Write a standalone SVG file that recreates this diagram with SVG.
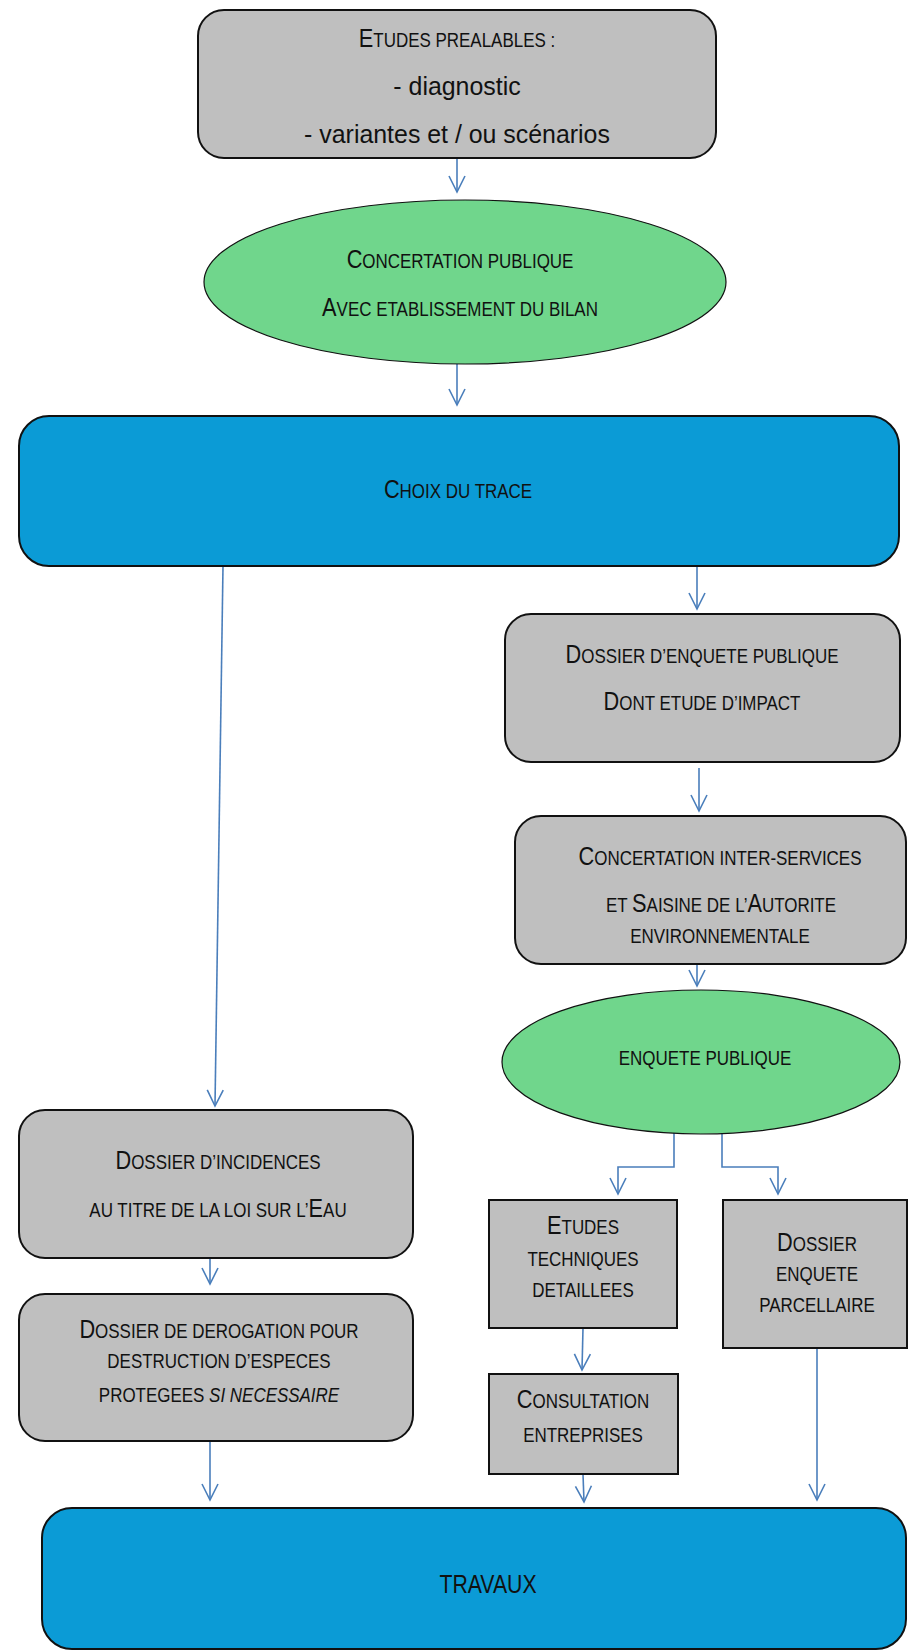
<svg xmlns="http://www.w3.org/2000/svg" width="908" height="1651" viewBox="0 0 908 1651">
<style>
.gray{fill:#bfbfbf;stroke:#111;stroke-width:2}
.blue{fill:#0b9bd6;stroke:#111;stroke-width:2}
.green{fill:#70d68c;stroke:#111;stroke-width:1.2}
.t{font-family:"Liberation Sans",Arial,sans-serif;font-size:19.5px;fill:#111;text-anchor:middle}
.b{font-size:25px}
.lc{font-size:26.5px}
.it{font-style:italic}
.c{fill:none;stroke:#4a7ebb;stroke-width:1.6}
</style>
<defs>
<marker id="ah" markerUnits="userSpaceOnUse" viewBox="-18 -10 20 20" markerWidth="20" markerHeight="20" refX="0" refY="0" orient="auto" overflow="visible">
<path d="M-16,-8 L0,0 L-16,8" fill="none" stroke="#4a7ebb" stroke-width="1.6"/>
</marker>
</defs>
<g id="connectors">
<path class="c" d="M457,158 L457,192" marker-end="url(#ah)"/>
<path class="c" d="M457,364 L457,405" marker-end="url(#ah)"/>
<path class="c" d="M223,566 L215,1106" marker-end="url(#ah)"/>
<path class="c" d="M697,566 L697,609" marker-end="url(#ah)"/>
<path class="c" d="M699,768 L699,811" marker-end="url(#ah)"/>
<path class="c" d="M697,964 L697,986" marker-end="url(#ah)"/>
<path class="c" d="M674,1133 L674,1167 L618,1167 L618,1194" marker-end="url(#ah)"/>
<path class="c" d="M722,1133 L722,1167 L778,1167 L778,1194" marker-end="url(#ah)"/>
<path class="c" d="M210,1258 L210,1284" marker-end="url(#ah)"/>
<path class="c" d="M583,1328 L582,1370" marker-end="url(#ah)"/>
<path class="c" d="M210,1441 L210,1500" marker-end="url(#ah)"/>
<path class="c" d="M583,1474 L584,1502" marker-end="url(#ah)"/>
<path class="c" d="M817,1348 L817,1500" stroke-width="2.4" marker-end="url(#ah)"/>
</g>
<g id="etudes-prealables">
<rect class="gray" x="198" y="10" width="518" height="148" rx="26"/>
<text class="t" transform="translate(457,47) scale(0.87,1)"><tspan class="b">E</tspan>TUDES PREALABLES :</text>
<text class="t lc" transform="translate(457,95) scale(0.94,1)">- diagnostic</text>
<text class="t lc" transform="translate(457,143) scale(0.94,1)">- variantes et / ou scénarios</text>
</g>
<g id="concertation-publique">
<ellipse class="green" cx="465" cy="282" rx="261" ry="82"/>
<text class="t" transform="translate(460,268) scale(0.87,1)"><tspan class="b">C</tspan>ONCERTATION PUBLIQUE</text>
<text class="t" transform="translate(460,316) scale(0.87,1)"><tspan class="b">A</tspan>VEC ETABLISSEMENT DU BILAN</text>
</g>
<g id="choix-trace">
<rect class="blue" x="19" y="416" width="880" height="150" rx="30"/>
<text class="t" transform="translate(458,498) scale(0.87,1)"><tspan class="b">C</tspan>HOIX DU TRACE</text>
</g>
<g id="dossier-enquete">
<rect class="gray" x="505" y="614" width="395" height="148" rx="26"/>
<text class="t" transform="translate(702,663) scale(0.87,1)"><tspan class="b">D</tspan>OSSIER D’ENQUETE PUBLIQUE</text>
<text class="t" transform="translate(702,710) scale(0.87,1)"><tspan class="b">D</tspan>ONT ETUDE D’IMPACT</text>
</g>
<g id="concertation-inter">
<rect class="gray" x="515" y="816" width="391" height="148" rx="26"/>
<text class="t" transform="translate(720,865) scale(0.87,1)"><tspan class="b">C</tspan>ONCERTATION INTER-SERVICES</text>
<text class="t" transform="translate(721,912) scale(0.87,1)">ET <tspan class="b">S</tspan>AISINE DE L’<tspan class="b">A</tspan>UTORITE</text>
<text class="t" transform="translate(720,943) scale(0.87,1)">ENVIRONNEMENTALE</text>
</g>
<g id="enquete-publique">
<ellipse class="green" cx="701" cy="1062" rx="199" ry="72"/>
<text class="t" transform="translate(705,1065) scale(0.87,1)">ENQUETE PUBLIQUE</text>
</g>
<g id="dossier-incidences">
<rect class="gray" x="19" y="1110" width="394" height="148" rx="26"/>
<text class="t" transform="translate(218,1169) scale(0.87,1)"><tspan class="b">D</tspan>OSSIER D’INCIDENCES</text>
<text class="t" transform="translate(218,1217) scale(0.87,1)">AU TITRE DE LA LOI SUR L’<tspan class="b">E</tspan>AU</text>
</g>
<g id="dossier-derogation">
<rect class="gray" x="19" y="1294" width="394" height="147" rx="26"/>
<text class="t" transform="translate(219,1338) scale(0.87,1)"><tspan class="b">D</tspan>OSSIER DE DEROGATION POUR</text>
<text class="t" transform="translate(219,1368) scale(0.87,1)">DESTRUCTION D’ESPECES</text>
<text class="t" transform="translate(219,1402) scale(0.87,1)">PROTEGEES <tspan class="it">SI NECESSAIRE</tspan></text>
</g>
<g id="etudes-techniques">
<rect class="gray" x="489" y="1200" width="188" height="128"/>
<text class="t" transform="translate(583,1234) scale(0.87,1)"><tspan class="b">E</tspan>TUDES</text>
<text class="t" transform="translate(583,1266) scale(0.87,1)">TECHNIQUES</text>
<text class="t" transform="translate(583,1297) scale(0.87,1)">DETAILLEES</text>
</g>
<g id="dossier-parcellaire">
<rect class="gray" x="723" y="1200" width="184" height="148"/>
<text class="t" transform="translate(817,1251) scale(0.87,1)"><tspan class="b">D</tspan>OSSIER</text>
<text class="t" transform="translate(817,1281) scale(0.87,1)">ENQUETE</text>
<text class="t" transform="translate(817,1312) scale(0.87,1)">PARCELLAIRE</text>
</g>
<g id="consultation">
<rect class="gray" x="489" y="1374" width="189" height="100"/>
<text class="t" transform="translate(583,1408) scale(0.87,1)"><tspan class="b">C</tspan>ONSULTATION</text>
<text class="t" transform="translate(583,1442) scale(0.87,1)">ENTREPRISES</text>
</g>
<g id="travaux">
<rect class="blue" x="42" y="1508" width="864" height="141" rx="30"/>
<text class="t" transform="translate(488,1593) scale(0.85,1)" style="font-size:25px">TRAVAUX</text>
</g>
</svg>
